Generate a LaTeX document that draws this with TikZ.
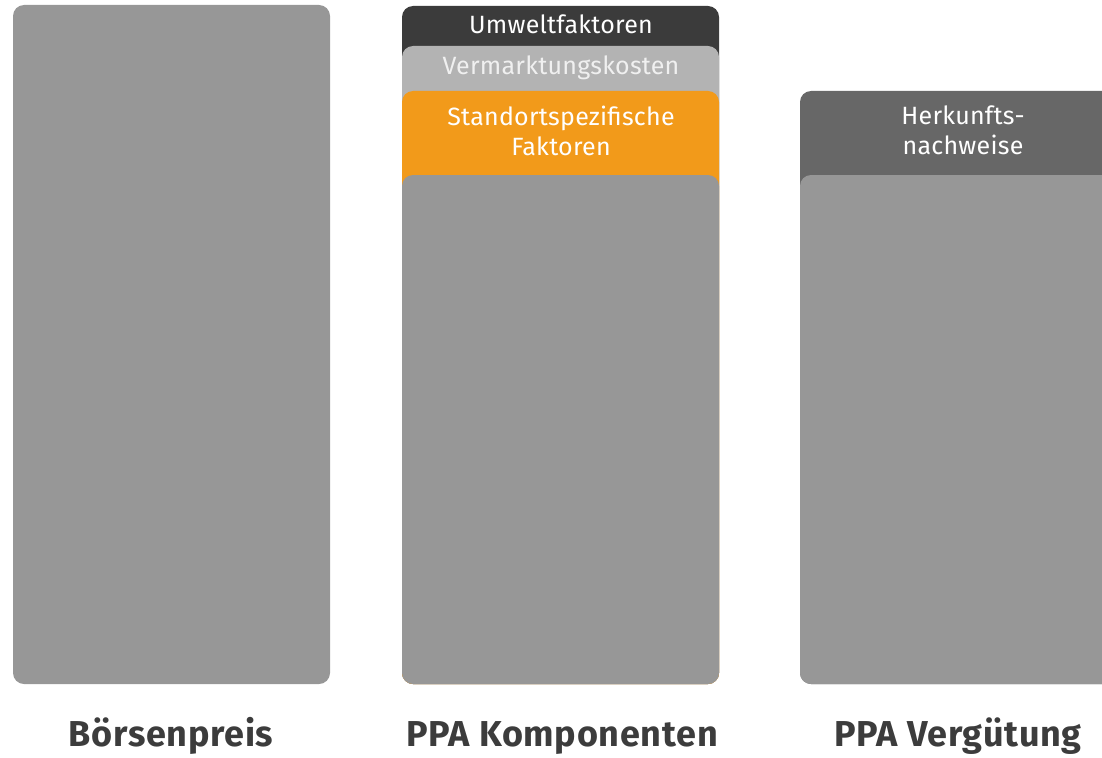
\documentclass[tikz,border=0pt]{standalone}
\usepackage{fontspec}
\setmainfont{Fira Sans}
\newfontfamily\innerfont{Fira Sans}[LetterSpace=1]
\newfontfamily\labelfont{Fira Sans}[LetterSpace=2]
\begin{document}
\begin{tikzpicture}[x=1pt,y=-1pt,
  bar/.style={rounded corners=11pt},
  intext/.style={text=white,font=\innerfont\fontsize{25}{30}\selectfont,align=center,inner sep=0pt,anchor=base},
  lbl/.style={text=labelc,font=\labelfont\fontsize{36}{40}\selectfont\bfseries,inner sep=0pt,anchor=base}]
\definecolor{barg}{HTML}{979797}
\definecolor{darkc}{HTML}{3B3B3B}
\definecolor{lightc}{HTML}{B3B3B3}
\definecolor{orangec}{HTML}{F29A1A}
\definecolor{herk}{HTML}{676767}
\definecolor{labelc}{HTML}{3C3C3C}
\useasboundingbox (0,0) rectangle (1102,757);
% Boersenpreis
\fill[barg,bar] (13,5) rectangle (330,684);
% PPA Komponenten
\fill[darkc,bar] (402,6) rectangle (719,684);
\fill[lightc,bar] (402,46) rectangle (719,684);
\fill[orangec,bar] (402,91) rectangle (719,684);
\fill[barg,bar] (402,175) rectangle (719,684);
% PPA Verguetung
\fill[herk,bar] (800,91) rectangle (1130,684);
\fill[barg,bar] (800,175) rectangle (1130,684);
% inner texts
\node[intext] (umw) at (561,33.5) {Umweltfaktoren};
\node[intext,text=white!94!black] (verm) at (561,75) {Vermarktungskosten};
\node[intext] (stand) at (561,155) {Standortspezifische\\Faktoren};
\node[intext] (herkt) at (963,154) {Herkunfts-\\nachweise};
% labels
\node[lbl] (l1) at (171,746) {Börsenpreis};
\node[lbl] (l2) at (562,746) {PPA Komponenten};
\node[lbl] (l3) at (958,746) {PPA Vergütung};
\end{tikzpicture}
\end{document}
